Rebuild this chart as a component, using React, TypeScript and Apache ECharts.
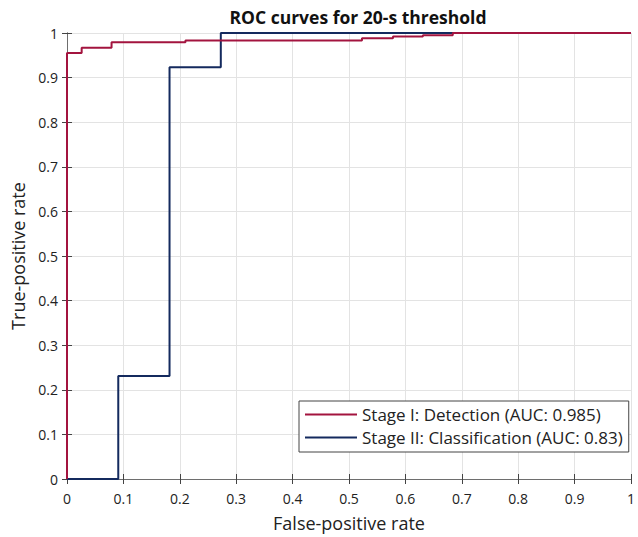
import React, { useEffect, useRef } from "react";
import * as echarts from "echarts";

const titleText = "ROC curves for 20-s threshold";
const xName = "False-positive rate";
const yName = "True-positive rate";
const seriesNames = ["Stage I: Detection (AUC: 0.985)", "Stage II: Classification (AUC: 0.83)"];
const redX = [0, 0, 0.026, 0.079, 0.21, 0.523, 0.578, 0.631, 0.684, 1];
const redY = [0, 0.955, 0.967, 0.979, 0.983, 0.988, 0.992, 0.995, 1, 1];
const blueX = [0, 0.0909, 0.1818, 0.2727, 1];
const blueY = [0, 0.2308, 0.923, 1, 1];

const FONT = "Open Sans";

export default function App() {
  const ref = useRef<HTMLDivElement>(null);
  useEffect(() => {
    document.body.style.margin = "0";
    const chart = echarts.init(ref.current!, null, { renderer: "svg" });
    const fmt = (v: number) => {
      const r = Math.round(v * 10) / 10;
      return r === 0 ? "0" : r === 1 ? "1" : String(r);
    };
    const axisColor = "#444";
    const common = {
      type: "value",
      min: 0,
      max: 1,
      interval: 0.1,
      axisLine: { show: true, lineStyle: { color: "#6e6e6e", width: 1 } },
      axisTick: { show: true, inside: true, length: 5, lineStyle: { color: axisColor } },
    };
    chart.setOption({
      animation: false,
      backgroundColor: "#fff",
      title: {
        text: titleText,
        left: 353,
        textAlign: "center",
        top: 3,
        textStyle: { fontFamily: FONT, fontSize: 17.5, fontWeight: "bold", color: "#111" },
      },
      grid: { left: 67, right: 4, top: 33, bottom: 56, containLabel: false },
      legend: {
        orient: "vertical",
        left: 299,
        top: 401,
        padding: [5, 6, 6, 6],
        itemGap: 6,
        itemWidth: 52,
        itemHeight: 2,
        icon: "rect",
        borderColor: "#444",
        borderWidth: 1,
        backgroundColor: "#fff",
        textStyle: { fontFamily: FONT, fontSize: 17, color: "#222" },
        data: seriesNames,
      },
      xAxis: [
        {
          ...common,
          position: "bottom",
          name: xName,
          nameLocation: "middle",
          nameGap: 35,
          nameTextStyle: { fontFamily: FONT, fontSize: 18, color: "#222" },
          axisLabel: { fontFamily: FONT, fontSize: 14, color: "#222", margin: 12, formatter: fmt },
          splitLine: { show: true, lineStyle: { color: "#e3e3e3", width: 1 } },
        },
        {
          ...common,
          position: "top",
          axisLabel: { show: false },
          splitLine: { show: false },
        },
      ],
      yAxis: [
        {
          ...common,
          position: "left",
          name: yName,
          nameLocation: "middle",
          nameGap: 40,
          nameTextStyle: { fontFamily: FONT, fontSize: 18, color: "#222" },
          axisLabel: { fontFamily: FONT, fontSize: 14, color: "#222", margin: 9, formatter: fmt },
          splitLine: { show: true, lineStyle: { color: "#e3e3e3", width: 1 } },
        },
        {
          ...common,
          position: "right",
          axisLabel: { show: false },
          splitLine: { show: false },
        },
      ],
      series: [
        {
          name: seriesNames[0],
          type: "line",
          step: "end",
          z: 4,
          showSymbol: false,
          symbol: "none",
          color: "#a3143f",
          lineStyle: { color: "#a3143f", width: 2 },
          data: redX.map((x, i) => [x, redY[i]]),
        },
        {
          name: seriesNames[1],
          type: "line",
          step: "end",
          z: 3,
          showSymbol: false,
          symbol: "none",
          color: "#142a5e",
          lineStyle: { color: "#142a5e", width: 2 },
          data: blueX.map((x, i) => [x, blueY[i]]),
        },
      ],
    });
    return () => chart.dispose();
  }, []);
  return <div ref={ref} style={{ width: 638, height: 537 }} />;
}
